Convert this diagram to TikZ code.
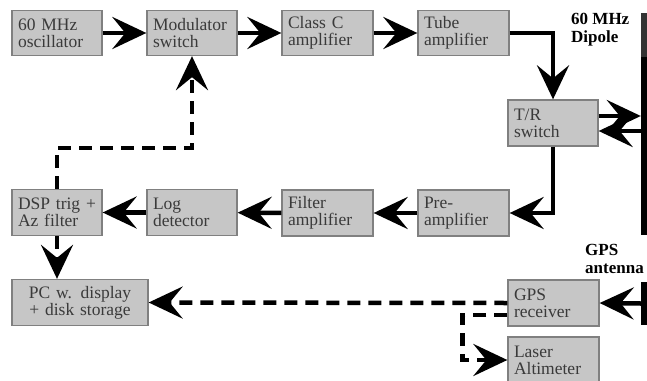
\documentclass[tikz,border=0pt]{standalone}
\usepackage{fontspec}
\setmainfont{Liberation Serif}
\usetikzlibrary{arrows.meta,calc}
\definecolor{boxfill}{HTML}{C6C6C6}
\definecolor{boxline}{HTML}{808080}
\definecolor{txt}{HTML}{3A3A3A}
\begin{document}
\begin{tikzpicture}[x=1pt,y=-1pt,
  box/.style={draw=boxline, fill=boxfill, line width=1.3pt, inner xsep=6pt, inner ysep=0pt,
    minimum height=45pt, align=left, text=txt,
    font=\fontsize{17.5}{17}\selectfont},
  arr/.style={line width=4.5pt, -{Stealth[length=34pt,width=32pt,inset=13pt]}},
  darr/.style={arr, dash pattern=on 13pt off 8pt},
  bar/.style={fill=black, inner sep=0pt, minimum width=6pt},
  lbl/.style={font=\bfseries\fontsize{17}{18}\selectfont, align=left, inner sep=0pt, anchor=north west}
]
\useasboundingbox (0,0) rectangle (647,380);

% top row
\node[box, text width=78pt] (osc) at (57,33) {60 MHz\\oscillator};
\node[box, text width=78pt] (mod) at (192,33) {Modulator\\switch};
\node[box, text width=79pt] (cls) at (327.5,33) {Class C\\amplifier};
\node[box, text width=79pt] (tube) at (463.5,33) {Tube\\amplifier};
% T/R
\node[box, text width=78pt, minimum height=46pt] (tr) at (553,123) {T/R\\switch};
% bottom row
\node[box, text width=79pt, minimum height=46pt] (pre) at (463.5,213) {Pre-\\amplifier};
\node[box, text width=79pt, minimum height=46pt] (fil) at (327.5,213) {Filter\\amplifier};
\node[box, text width=78pt, minimum height=46pt] (log) at (192,212.5) {Log\\detector};
\node[box, text width=78pt, minimum height=46pt] (dsp) at (57,212.5) {DSP trig +\\Az filter};
% PC, GPS, laser
\node[box, text width=124pt, align=center, minimum height=46pt] (pc) at (80,302.5) {PC w. display\\+ disk storage};
\node[box, text width=79pt, minimum height=46pt] (gps) at (553.5,303) {GPS\\receiver};
\node[box, text width=79pt, minimum height=46pt] (laser) at (553.5,360) {Laser\\Altimeter};

% antennas
\node[bar, minimum height=44pt, fill=black!80] (diptop) at (644,35) {};
\node[bar, minimum height=178pt] (dip) at (644,146) {};
\node[bar, minimum height=43pt] (gant) at (644,303.5) {};
\node[lbl] (diplbl) at (571,13) {60 MHz\\Dipole};
\node[lbl] (gpslbl) at (585,244) {GPS\\antenna};

% solid connectors
\draw[arr] (osc) -- (mod);
\draw[arr] (mod) -- (cls);
\draw[arr] (cls) -- (tube);
\draw[arr] (tube.east) -| (tr.north);
\draw[arr] ([yshift=7pt]tr.east) -- ([yshift=7pt]tr.east -| dip.west);
\draw[arr] ([yshift=-8pt]tr.east -| dip.west) -- ([yshift=-8pt]tr.east);
\draw[arr] (tr.south) |- (pre.east);
\draw[arr] (pre) -- (fil);
\draw[arr] (fil) -- (log);
\draw[arr] (log) -- (dsp);
\draw[arr] (gant.west) -- (gps.east);

% dashed connectors
\draw[darr] (dsp.north) -- ++(0,-41) -| (mod.south);
\draw[darr] (dsp.south) -- (dsp.south |- pc.north);
\draw[darr] (gps.west) -- (pc.east);
\draw[darr] ([yshift=-12pt]gps.west) -| ($(laser.west)+(-45pt,0)$) -- (laser.west);
\end{tikzpicture}
\end{document}
